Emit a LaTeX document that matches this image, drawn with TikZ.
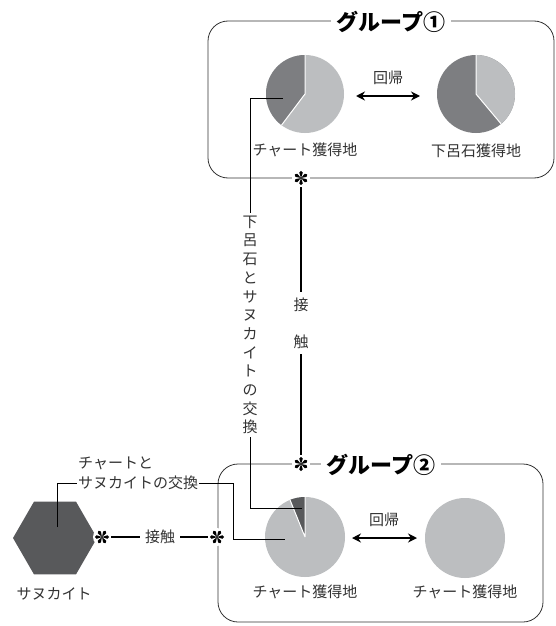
\documentclass[tikz,border=0pt]{standalone}
\usepackage{fontspec}
\newfontfamily\jp{Noto Sans CJK JP}
\usetikzlibrary{shapes.geometric,arrows.meta}
\definecolor{pielight}{HTML}{BCBEC0}
\definecolor{piedark}{HTML}{7D7E81}
\definecolor{vdark}{HTML}{58595B}
\definecolor{txt}{HTML}{333333}
\tikzset{
  lbl/.style={font=\jp\fontsize{15}{18}\selectfont, text=txt, inner sep=1pt},
  grptitle/.style={font=\jp\bfseries\fontsize{22}{24}\selectfont, fill=white, inner xsep=6pt, inner ysep=2pt},
  grp/.style={draw=txt, line width=0.8pt, rounded corners=20pt},
  callout/.style={draw=black, line width=0.7pt},
  contact/.style={draw=black, line width=2.6pt},
  back/.style={draw=black, line width=2pt, {Stealth[length=9pt,width=9pt]}-{Stealth[length=9pt,width=9pt]}},
  sepline/.style={draw=white, line width=1pt},
  aster/.pic={
    \fill[white] (0,0) circle[radius=9pt];
    \foreach \a in {0,60,...,300}{
      \fill[black, rotate=\a] (0,0) -- (5.4pt,-1.8pt) arc[start angle=-90,end angle=90,radius=1.8pt] -- cycle;}
  }
}
\begin{document}
\begin{tikzpicture}[x=1pt,y=1pt]
\path[use as bounding box, fill=white] (0,0) rectangle (555,-626);

% group boxes
\draw[grp] (208,-21) rectangle (554,-178);
\draw[grp] (218,-464) rectangle (543,-622);
\node[grptitle] (t1) at (391,-22) {グループ①};
\node[grptitle] (t2) at (381,-465) {グループ②};

% pies group 1
\coordinate (pA) at (305,-94);
\fill[pielight] (pA) circle[radius=39pt];
\fill[piedark] (pA) -- ++(90:39pt) arc[start angle=90,end angle=233,radius=39pt] -- cycle;
\draw[sepline] (pA) -- ++(90:39pt) (pA) -- ++(233:39pt);

\coordinate (pB) at (476,-94);
\fill[piedark] (pB) circle[radius=39pt];
\fill[pielight] (pB) -- ++(-50:39pt) arc[start angle=-50,end angle=90,radius=39pt] -- cycle;
\draw[sepline] (pB) -- ++(90:39pt) (pB) -- ++(-50:39pt);

% pies group 2
\coordinate (pC) at (305,-537);
\fill[pielight] (pC) circle[radius=40pt];
\fill[vdark] (pC) -- ++(90:40pt) arc[start angle=90,end angle=112,radius=40pt] -- cycle;
\draw[sepline] (pC) -- ++(90:40pt) (pC) -- ++(112:40pt);

\coordinate (pD) at (465,-538);
\fill[pielight] (pD) circle[radius=40pt];

% labels
\node[lbl] (lA) at (305,-150) {チャート獲得地};
\node[lbl] (lB) at (476,-151) {下呂石獲得地};
\node[lbl] (lC) at (305,-592) {チャート獲得地};
\node[lbl] (lD) at (465,-592) {チャート獲得地};

% return arrows
\coordinate (r1a) at (356,-96);
\coordinate (r1b) at (420,-96);
\draw[back] (r1a) -- (r1b);
\node[lbl] (r1) at (388,-78) {回帰};
\coordinate (r2a) at (352,-538);
\coordinate (r2b) at (417,-538);
\draw[back] (r2a) -- (r2b);
\node[lbl] (r2) at (384,-520) {回帰};

% hexagon
\node[regular polygon, regular polygon sides=6, minimum size=84pt, fill=vdark, inner sep=0pt] (hex) at (55,-538) {};
\node[lbl] (lH) at (54,-594) {サヌカイト};

% callout: chert and sanukite exchange
\node[lbl, anchor=west] (c1) at (77,-463) {チャートと};
\node[lbl, anchor=west] (c2) at (77,-483) {サヌカイトの交換};
\coordinate (hc) at (57,-527);
\coordinate (cb) at (233,-539);
\coordinate (ce) at (285,-539);
\draw[callout] (hc) |- (c2.west);
\draw[callout] (c2.east) -| (cb) -- (ce);

% callout: geroishi and sanukite exchange (vertical)
\node[lbl, align=center, font=\jp\fontsize{15}{18.7}\selectfont, inner sep=3pt] (vt) at (250,-325)
  {下\\呂\\石\\と\\サ\\ヌ\\カ\\イ\\ト\\の\\交\\換};
\coordinate (va) at (283,-98);
\coordinate (vb) at (302,-508);
\draw[callout] (va) -| (vt.north);
\draw[callout] (vt.south) |- (vb);

% contact (vertical)
\coordinate (s1) at (301,-178);
\coordinate (s2) at (301,-464);
\draw[contact] (s1) -- (s2);
\node[lbl, fill=white, align=center, font=\jp\fontsize{15}{37}\selectfont, inner ysep=6pt] (k1) at (301,-323) {接\\触};
\pic[rotate=90] at (s1) {aster};
\pic[rotate=90] at (s2) {aster};

% contact (horizontal)
\coordinate (s3) at (102,-537);
\coordinate (s4) at (217,-537);
\draw[contact] (s3) -- (s4);
\node[lbl, fill=white, inner xsep=5pt] (k2) at (160,-537) {接触};
\pic at (s3) {aster};
\pic at (s4) {aster};
\end{tikzpicture}
\end{document}
